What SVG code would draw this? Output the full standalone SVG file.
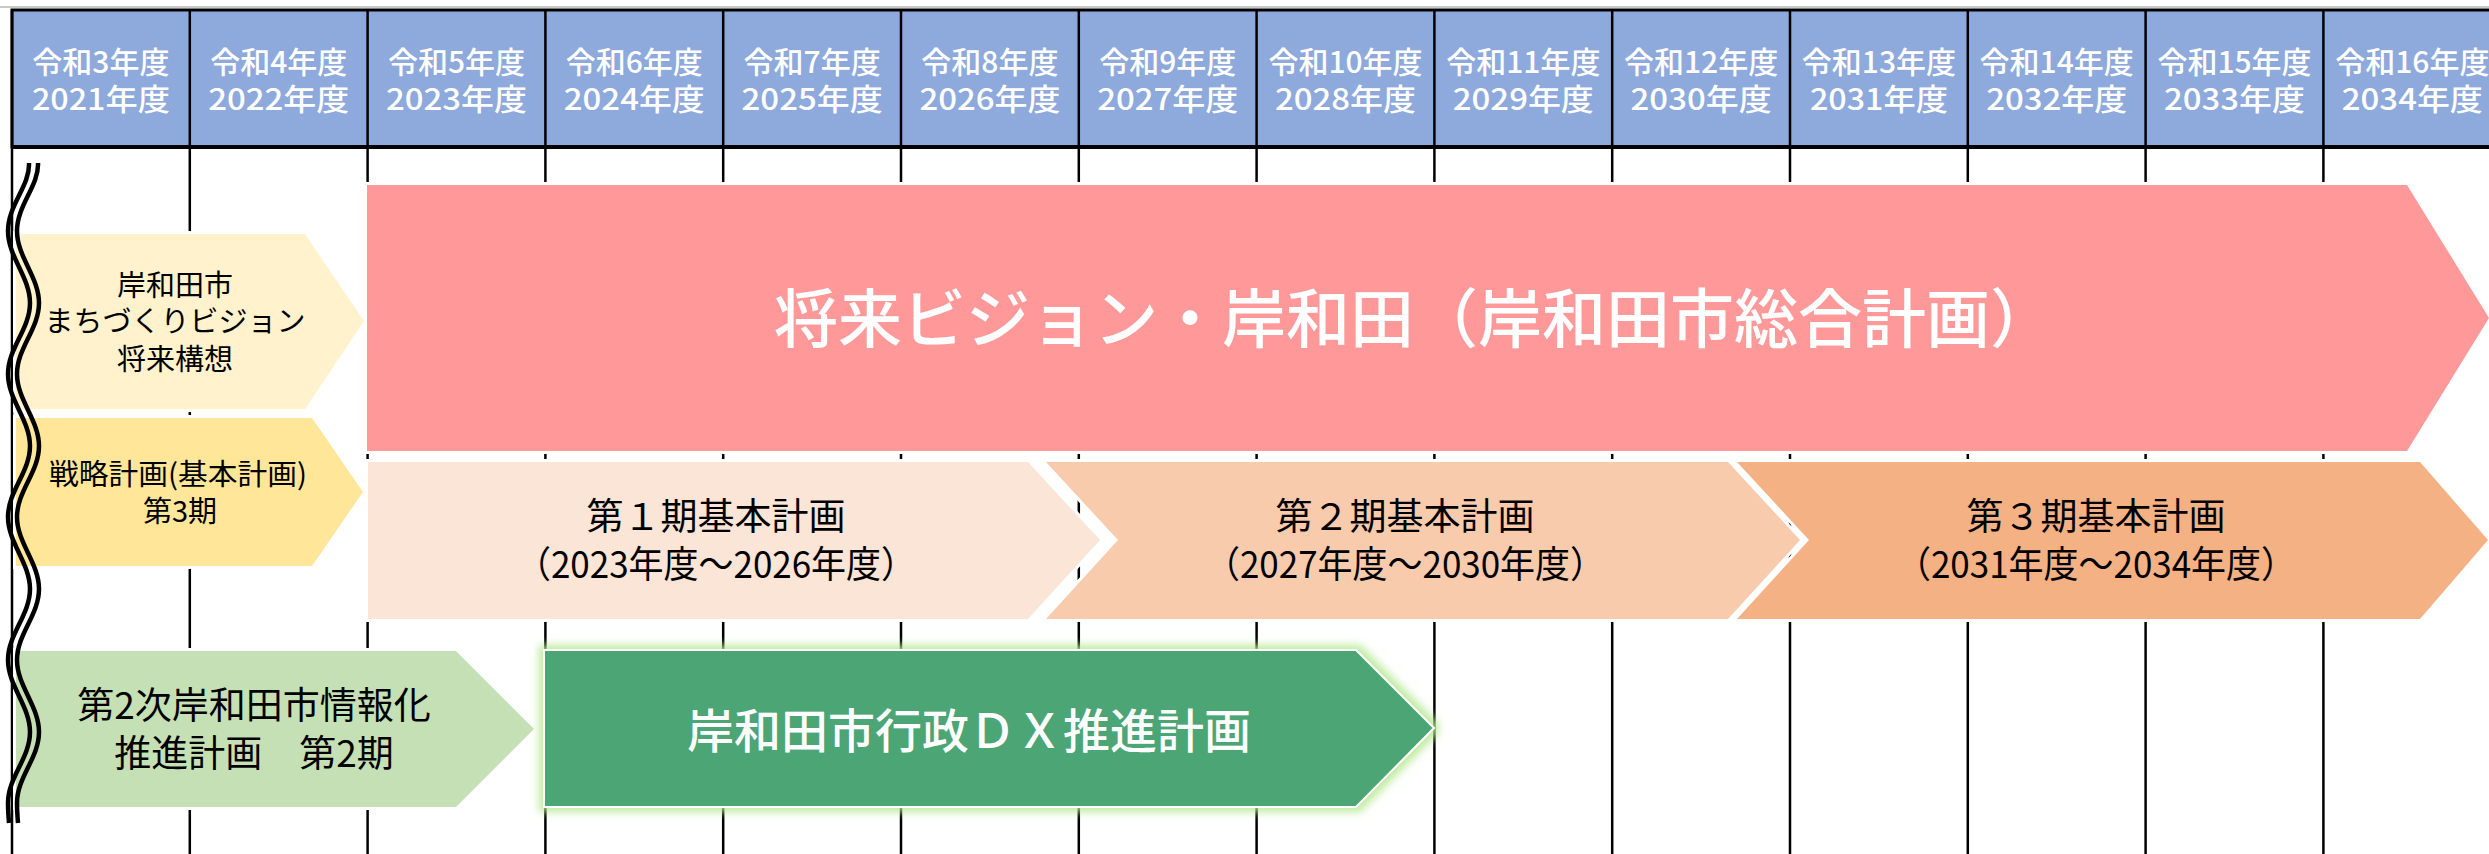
<svg xmlns="http://www.w3.org/2000/svg" width="2489" height="854" viewBox="0 0 2489 854">
<defs>
<style>
.hd{fill:#fff;font-family:"Noto Sans CJK JP","Noto Sans",sans-serif;font-size:30px;font-weight:500;text-anchor:middle}
.bk{fill:#000;font-family:"Noto Sans CJK JP","Noto Sans",sans-serif;text-anchor:middle}
.wt{fill:#fff;font-family:"Noto Sans CJK JP","Noto Sans",sans-serif;text-anchor:middle}
.shp{stroke:#fff;stroke-width:6;paint-order:stroke;stroke-linejoin:miter}
.vl{stroke:#000;stroke-width:2.5}
.wave{fill:none;stroke:#000;stroke-width:4.5}
</style>
<filter id="glow" x="-5%" y="-15%" width="110%" height="130%">
<feMorphology in="SourceAlpha" operator="dilate" radius="4" result="d"/>
<feGaussianBlur in="d" stdDeviation="4" result="b"/>
<feFlood flood-color="#B9E895" flood-opacity="0.9"/>
<feComposite in2="b" operator="in" result="g"/>
<feMerge><feMergeNode in="g"/><feMergeNode in="SourceGraphic"/></feMerge>
</filter>
</defs>
<rect width="2489" height="854" fill="#fff"/>
<line x1="0" y1="7" x2="2489" y2="7" stroke="#c8c8c8" stroke-width="2"/>
<g id="header">
<rect x="12" y="10" width="2490" height="137" fill="#8EA9DB" stroke="#000" stroke-width="3"/>
<line x1="12" y1="147" x2="2489" y2="147" stroke="#000" stroke-width="4"/>
</g>
<g id="grid">
<line class="vl" x1="12" y1="10" x2="12" y2="854"/>
<line class="vl" x1="189.8" y1="10" x2="189.8" y2="854"/>
<line class="vl" x1="367.6" y1="10" x2="367.6" y2="854"/>
<line class="vl" x1="545.4" y1="10" x2="545.4" y2="854"/>
<line class="vl" x1="723.2" y1="10" x2="723.2" y2="854"/>
<line class="vl" x1="901" y1="10" x2="901" y2="854"/>
<line class="vl" x1="1078.8" y1="10" x2="1078.8" y2="854"/>
<line class="vl" x1="1256.6" y1="10" x2="1256.6" y2="854"/>
<line class="vl" x1="1434.4" y1="10" x2="1434.4" y2="854"/>
<line class="vl" x1="1612.2" y1="10" x2="1612.2" y2="854"/>
<line class="vl" x1="1790" y1="10" x2="1790" y2="854"/>
<line class="vl" x1="1967.8" y1="10" x2="1967.8" y2="854"/>
<line class="vl" x1="2145.6" y1="10" x2="2145.6" y2="854"/>
<line class="vl" x1="2323.4" y1="10" x2="2323.4" y2="854"/>
</g>
<g id="header-labels">
<text class="hd" x="100.9" y="73">令和3年度</text><text class="hd" x="100.9" y="110" textLength="138" lengthAdjust="spacingAndGlyphs">2021年度</text>
<text class="hd" x="278.7" y="73">令和4年度</text><text class="hd" x="278.7" y="110" textLength="141" lengthAdjust="spacingAndGlyphs">2022年度</text>
<text class="hd" x="456.5" y="73">令和5年度</text><text class="hd" x="456.5" y="110" textLength="141" lengthAdjust="spacingAndGlyphs">2023年度</text>
<text class="hd" x="634.3" y="73">令和6年度</text><text class="hd" x="634.3" y="110" textLength="141" lengthAdjust="spacingAndGlyphs">2024年度</text>
<text class="hd" x="812.1" y="73">令和7年度</text><text class="hd" x="812.1" y="110" textLength="141" lengthAdjust="spacingAndGlyphs">2025年度</text>
<text class="hd" x="989.9" y="73">令和8年度</text><text class="hd" x="989.9" y="110" textLength="141" lengthAdjust="spacingAndGlyphs">2026年度</text>
<text class="hd" x="1167.7" y="73">令和9年度</text><text class="hd" x="1167.7" y="110" textLength="141" lengthAdjust="spacingAndGlyphs">2027年度</text>
<text class="hd" x="1345.5" y="73">令和10年度</text><text class="hd" x="1345.5" y="110" textLength="141" lengthAdjust="spacingAndGlyphs">2028年度</text>
<text class="hd" x="1523.3" y="73">令和11年度</text><text class="hd" x="1523.3" y="110" textLength="141" lengthAdjust="spacingAndGlyphs">2029年度</text>
<text class="hd" x="1701.1" y="73">令和12年度</text><text class="hd" x="1701.1" y="110" textLength="141" lengthAdjust="spacingAndGlyphs">2030年度</text>
<text class="hd" x="1878.9" y="73">令和13年度</text><text class="hd" x="1878.9" y="110" textLength="138" lengthAdjust="spacingAndGlyphs">2031年度</text>
<text class="hd" x="2056.7" y="73">令和14年度</text><text class="hd" x="2056.7" y="110" textLength="141" lengthAdjust="spacingAndGlyphs">2032年度</text>
<text class="hd" x="2234.5" y="73">令和15年度</text><text class="hd" x="2234.5" y="110" textLength="141" lengthAdjust="spacingAndGlyphs">2033年度</text>
<text class="hd" x="2412.3" y="73">令和16年度</text><text class="hd" x="2412.3" y="110" textLength="141" lengthAdjust="spacingAndGlyphs">2034年度</text>
</g>
<g id="node-vision-kousou">
<polygon class="shp" points="16,234 305,234 364,321 305,409 16,409" fill="#FFF2CC"/>
<text class="bk" font-size="29" x="175" y="295.5">岸和田市</text>
<text class="bk" font-size="29" x="175" y="332">まちづくりビジョン</text>
<text class="bk" font-size="29" x="175" y="370">将来構想</text>
</g>
<g id="node-senryaku">
<polygon class="shp" points="16,418 312,418 363,492 312,566 16,566" fill="#FFE699"/>
<text class="bk" font-size="29" x="178" y="485" textLength="258" lengthAdjust="spacingAndGlyphs">戦略計画(基本計画)</text>
<text class="bk" font-size="29" x="180" y="522">第3期</text>
</g>
<g id="node-sougou">
<polygon class="shp" points="367,185 2407,185 2489,318 2407,451 367,451" fill="#FF9999"/>
<text class="wt" font-size="64" font-weight="500" x="1414" y="342">将来ビジョン・岸和田（岸和田市総合計画）</text>
</g>
<g id="node-kihon1">
<polygon class="shp" points="368,462 1028,462 1100,540 1028,619 368,619" fill="#FBE5D6"/>
<text class="bk" font-size="37" x="716" y="530">第１期基本計画</text>
<text class="bk" font-size="37" x="716" y="578" textLength="400" lengthAdjust="spacingAndGlyphs">（2023年度～2026年度）</text>
</g>
<g id="node-kihon2">
<polygon class="shp" points="1046,462 1728,462 1800,540 1728,619 1046,619 1118,540" fill="#F8CBAD"/>
<text class="bk" font-size="37" x="1405" y="530">第２期基本計画</text>
<text class="bk" font-size="37" x="1405" y="578" textLength="400" lengthAdjust="spacingAndGlyphs">（2027年度～2030年度）</text>
</g>
<g id="node-kihon3">
<polygon class="shp" points="1737,462 2420,462 2488,540 2420,619 1737,619 1809,540" fill="#F4B183"/>
<text class="bk" font-size="37" x="2096" y="530">第３期基本計画</text>
<text class="bk" font-size="37" x="2096" y="578" textLength="400" lengthAdjust="spacingAndGlyphs">（2031年度～2034年度）</text>
</g>
<g id="node-jouhouka">
<polygon class="shp" points="16,651 456,651 534,729 456,807 16,807" fill="#C5E0B4"/>
<text class="bk" font-size="37" x="254" y="719">第2次岸和田市情報化</text>
<text class="bk" font-size="37" x="254" y="767">推進計画　第2期</text>
</g>
<g id="node-dx">
<polygon points="544,650 1356,650 1434,728 1356,807 544,807" fill="#4CA574" stroke="#fff" stroke-width="2" filter="url(#glow)"/>
<text class="wt" font-size="47" font-weight="500" x="969" y="748">岸和田市行政ＤＸ推進計画</text>
</g>
<g id="connectors">
<path class="wave" d="M29,163 C30,186 8,205 8,231 C8,257 30,277 30,303 C30,329 8,348 8,374 C8,400 30,420 30,446 C30,472 8,491 8,517 C8,543 30,563 30,589 C30,615 8,634 8,660 C8,686 30,706 30,732 C30,758 8,777 8,803 C8,810 8.5,817 9,823"/>
<path class="wave" d="M38,163 C39,186 17,205 17,231 C17,257 39,277 39,303 C39,329 17,348 17,374 C17,400 39,420 39,446 C39,472 17,491 17,517 C17,543 39,563 39,589 C39,615 17,634 17,660 C17,686 39,706 39,732 C39,758 17,777 17,803 C17,810 17.5,817 18,823"/>
</g>
</svg>
